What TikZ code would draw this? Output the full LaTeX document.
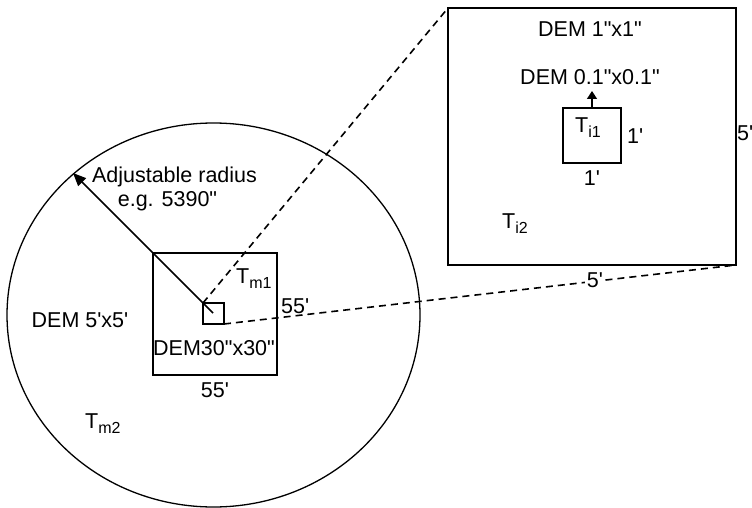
\documentclass[tikz,border=0pt]{standalone}
\usepackage{fontspec}
\setmainfont{Liberation Sans}[Ligatures=TeXOff]
\usetikzlibrary{arrows.meta,shapes.geometric}
\newcommand{\sbs}[1]{\raisebox{-0.45ex}{\fontsize{16}{16}\selectfont #1}}
\tikzset{
  lbl/.style={font=\fontsize{21.5}{23}\selectfont, inner sep=0pt, anchor=base},
  lblw/.style={lbl, anchor=base west},
  sq/.style={draw, rectangle, line width=1.6pt, inner sep=0pt, outer sep=0pt},
  dsh/.style={line width=1.6pt, dash pattern=on 7pt off 5pt},
  rad/.style={line width=1.5pt, -{Triangle[length=13pt,width=11pt]}},
  small/.style={line width=1.5pt, -{Triangle[length=8pt,width=10pt]}}
}
\begin{document}
\begin{tikzpicture}[x=1pt,y=-1pt]
\useasboundingbox (0,0) rectangle (752,508);
% big ellipse
\node[draw, ellipse, line width=1.3pt, inner sep=0pt, outer sep=0pt,
      minimum width=413pt, minimum height=384pt] (circ) at (213.5,315) {};
% squares
\node[sq, minimum width=124pt, minimum height=122pt] (bigsq) at (215,314) {};
\node[sq, minimum width=21pt, minimum height=21pt] (smallsq) at (213.5,313.5) {};
\node[sq, minimum width=288pt, minimum height=257pt] (zoombox) at (592,136.5) {};
\node[sq, minimum width=58pt, minimum height=55pt] (innersq) at (592,135.5) {};
% radius arrow
\coordinate (cen) at (213,313);
\coordinate (rtip) at (73,173);
\draw[rad] (cen) -- (rtip);
% inner arrow
\coordinate (atip) at (592,91);
\draw[small] (innersq.north) -- (atip);
% dashed zoom lines
\draw[dsh] (smallsq.north west) -- (zoombox.north west);
\draw[dsh] (smallsq.south east) -- (zoombox.south east);
% labels left
\node[lbl] (adj) at (174.5,182) {Adjustable radius};
\node[lbl] (eg) at (167.5,206) {e.g. 5390"};
\node[lbl] (dem5) at (80,327) {DEM 5'x5'};
\node[lblw] (tm1) at (236,283) {T\sbs{m1}};
\node[lblw] (r55) at (281,313) {55'};
\node[lbl] (dem30) at (214,355) {DEM30"x30"};
\node[lbl] (b55) at (215,397) {55'};
\node[lblw] (tm2) at (85,428) {T\sbs{m2}};
% labels right
\node[lbl] (dem1) at (590,37) {DEM 1"x1"};
\node[lbl] (dem01) at (590,85) {DEM 0.1"x0.1"};
\node[lblw] (ti1) at (575,132) {T\sbs{i1}};
\node[lblw] (r1) at (627,143) {1'};
\node[lbl] (b1) at (592,185) {1'};
\node[lblw] (r5) at (737,141) {5'};
\node[lblw] (ti2) at (502,228) {T\sbs{i2}};
\node[lbl, fill=white, inner xsep=2pt] (b5) at (595,287) {5'};
\end{tikzpicture}
\end{document}
